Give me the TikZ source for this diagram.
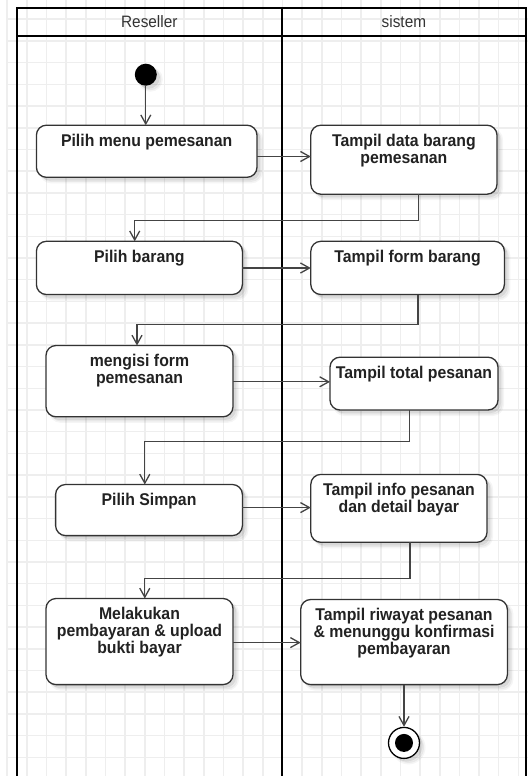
\documentclass[tikz,border=0pt]{standalone}
\usepackage{fontspec}
\setmainfont{Liberation Sans}[FakeStretch=0.93]
\usetikzlibrary{arrows.meta,shadows}

\definecolor{gridline}{HTML}{EEEEEE}
\definecolor{edgecol}{HTML}{444444}
\definecolor{bordercol}{HTML}{333333}
\definecolor{textcol}{HTML}{222222}
\definecolor{headcol}{HTML}{333333}

% activity box given by its corners: name, x1, y1, x2, y2, text
\newcommand\actbox[6]{%
  \node[act, minimum width={(#4-#2)*1pt}, minimum height={(#5-#3)*1pt}]
    (#1) at ({(#2+#4)/2},{(#3+#5)/2})
    {\parbox[c][\dimexpr #5pt-#3pt\relax][t]{\dimexpr #4pt-#2pt\relax}%
      {\centering\vspace*{9pt}#6\par}};}

\begin{document}
\begin{tikzpicture}[x=1pt, y=-1pt,
  softshadow/.style={
    general shadow={shadow xshift=3pt, shadow yshift=-3pt, fill=black, fill opacity=0.10},
    general shadow={shadow xshift=4.5pt, shadow yshift=-4.5pt, fill=black, fill opacity=0.05,
                    draw=black, draw opacity=0.04, line width=3pt}},
  act/.style={draw=bordercol, line width=1.3pt, fill=white, rounded corners=10pt,
    inner sep=0pt, outer sep=0pt, softshadow, text=textcol,
    font=\fontsize{17}{16.8}\selectfont\bfseries},
  lane/.style={draw=black, line width=2.2pt},
  lanehead/.style={text=headcol, font=\fontsize{16.5}{18}\selectfont, inner sep=0pt},
  flow/.style={draw=edgecol, line width=1.3pt,
    -{Straight Barb[length=9pt, width=10pt, line width=1.3pt]}},
  initial/.style={circle, fill=black, minimum size=22pt, inner sep=0pt, softshadow},
  final/.style={circle, draw=black, line width=1.3pt, fill=white, minimum size=31pt,
    inner sep=0pt, softshadow},
  finaldot/.style={circle, fill=black, minimum size=18pt, inner sep=0pt}]

% canvas and background grid
\clip (0,0) rectangle (528,776);
\fill[white] (0,0) rectangle (528,776);
\foreach \k in {0,...,26}
  \draw[gridline, line width=1.5pt] ({7.24+\k*19.66},0) -- ({7.24+\k*19.66},776);
\foreach \k in {1,...,35}
  \draw[gridline, line width=1.5pt] (7,{-2.5+\k*21.71}) -- (528,{-2.5+\k*21.71});

% swimlanes
\draw[lane] (16.8,790) -- (16.8,8.1) -- (526,8.1) -- (526,790);
\draw[lane] (16.8,36) -- (526,36);
\draw[lane] (281.8,8.1) -- (281.8,790);
\node[lanehead] (hreseller) at (149.3,22) {Reseller};
\node[lanehead] (hsistem) at (403.9,22) {sistem};

% start
\node[initial] (start) at (145.8,74.7) {};

% activities
\actbox{n1}{36.4}{125.2}{257}{177.3}{Pilih menu pemesanan}
\actbox{n2}{310.8}{125.2}{497}{194.2}{Tampil data barang\\pemesanan}
\actbox{n3}{36.4}{241.3}{242.4}{294.5}{Pilih barang}
\actbox{n4}{310.8}{241.3}{504.4}{294.5}{Tampil form barang}
\actbox{n5}{46}{345.5}{233}{416.8}{mengisi form\\pemesanan}
\actbox{n6}{330}{357.2}{498}{410}{Tampil total pesanan}
\actbox{n7}{55.6}{484.5}{242.4}{535.6}{Pilih Simpan}
\actbox{n8}{310.8}{474.4}{487}{542.3}{Tampil info pesanan\\dan detail bayar}
\actbox{n9}{46}{598.5}{233}{684.6}{Melakukan\\pembayaran \& upload\\bukti bayar}
\actbox{n10}{300.7}{599.5}{507.4}{684.6}{Tampil riwayat pesanan\\\& menunggu konfirmasi\\pembayaran}

% end
\node[final] (stop) at (404,742.9) {};
\node[finaldot] (stopdot) at (stop) {};

% flows
\draw[flow] (start) -- (start |- n1.north);
\draw[flow] (n1.east |- 0,156.5) -- (n2.west |- 0,156.5);
\draw[flow] (n2.south -| 418.5,0) -- (418.5,220.4) -- (134.7,220.4) -- (n3.north -| 134.7,0);
\draw[flow] (n3.east |- 0,268) -- (n4.west |- 0,268);
\draw[flow] (n4.south -| 418,0) -- (418,324.2) -- (137,324.2) -- (n5.north -| 137,0);
\draw[flow] (n5.east |- 0,381.8) -- (n6.west |- 0,381.8);
\draw[flow] (n6.south -| 409.8,0) -- (409.8,441.4) -- (144.8,441.4) -- (n7.north -| 144.8,0);
\draw[flow] (n7.east |- 0,507.6) -- (n8.west |- 0,507.6);
\draw[flow] (n8.south -| 410,0) -- (410,578.7) -- (144.8,578.7) -- (n9.north -| 144.8,0);
\draw[flow] (n9.east |- 0,642.6) -- (n10.west |- 0,642.6);
\draw[flow] (n10.south -| stop) -- (stop);
\end{tikzpicture}
\end{document}
